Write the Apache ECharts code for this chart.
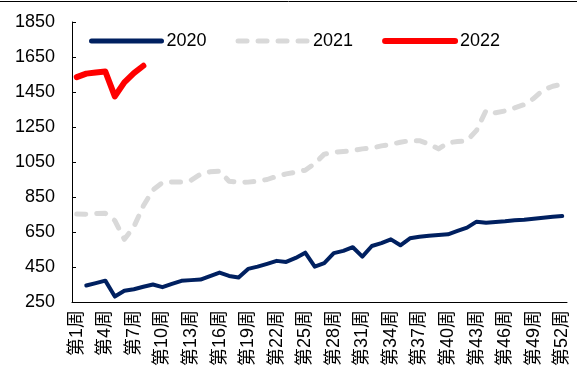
<!DOCTYPE html>
<html><head><meta charset="utf-8">
<script src="https://cdn.jsdelivr.net/npm/echarts@6/dist/echarts.min.js"></script>
<style>html,body{margin:0;padding:0;background:#fff}#c{width:577px;height:374px}</style>
</head><body><div id="c"></div>
<script>
const weeks = [];
for (let i = 1; i <= 52; i++) weeks.push('第' + i + '周');
const s2020 = [null,344,358,372,281,314,323,337,350,335,354,371,375,378,398,418,399,390,439,452,468,485,479,502,532,452,472,529,542,563,509,570,586,608,574,614,623,629,633,637,656,675,709,703,707,711,717,720,726,731,737,741];
const s2021 = [753,752,755,757,715,608,680,800,890,932,936,936,946,980,994,998,940,934,935,941,950,968,982,992,1003,1041,1095,1106,1110,1115,1125,1130,1142,1151,1163,1172,1172,1153,1125,1160,1167,1172,1231,1345,1331,1342,1359,1378,1413,1461,1483,1495];
const s2022 = [1535,1555,1562,1567,1425,1505,1558,1600];
const yTicks = {min:250, max:1850, interval:200};

const font = 'Liberation Sans, Arial, Noto Sans CJK SC, sans-serif';
const chart = echarts.init(document.getElementById('c'), null, {renderer:'canvas'});
chart.setOption({
  animation:false,
  textStyle:{fontFamily:font},
  grid:{left:72, right:10, top:22, bottom:72},
  legend:{
    top:27, left:84, itemWidth:70, itemHeight:14, itemGap:29,
    itemStyle:{opacity:0},
    textStyle:{fontSize:18, color:'#000', fontFamily:font},
    data:[
      {name:'2020', lineStyle:{width:5, cap:'round', color:'#002060'}},
      {name:'2021', lineStyle:{width:5, cap:'round', color:'#D9D9D9', type:[9,11]}},
      {name:'2022', lineStyle:{width:6, cap:'round', color:'#FF0000'}}
    ]
  },
  xAxis:{
    type:'category', data:weeks, boundaryGap:true,
    axisLine:{lineStyle:{color:'#000', width:1}},
    axisTick:{inside:true, length:4, interval:0, lineStyle:{color:'#000'}},
    axisLabel:{interval:2, rotate:90, fontSize:18, color:'#000', margin:8, fontFamily:font}
  },
  yAxis:{
    type:'value', min:yTicks.min, max:yTicks.max, interval:yTicks.interval,
    axisLine:{show:true, lineStyle:{color:'#000', width:1}},
    axisTick:{show:true, inside:true, length:4, lineStyle:{color:'#000'}},
    splitLine:{show:false},
    axisLabel:{fontSize:18, color:'#000', margin:17, fontFamily:font, formatter:v => String(v)}
  },
  series:[
    {name:'2020', type:'line', data:s2020, symbol:'none', connectNulls:false,
     lineStyle:{color:'#002060', width:4, cap:'round', join:'round'}, itemStyle:{color:'#002060'}},
    {name:'2021', type:'line', data:s2021, symbol:'none',
     lineStyle:{color:'#D9D9D9', width:5, type:[9,11], cap:'round', join:'round'}, itemStyle:{color:'#D9D9D9'}},
    {name:'2022', type:'line', data:s2022, symbol:'none',
     lineStyle:{color:'#FF0000', width:6, cap:'round', join:'round'}, itemStyle:{color:'#FF0000'}}
  ],
  graphic:[{type:'line', shape:{x1:0,y1:1.5,x2:577,y2:1.5}, style:{stroke:'#000', lineWidth:1}}]
});
</script></body></html>
